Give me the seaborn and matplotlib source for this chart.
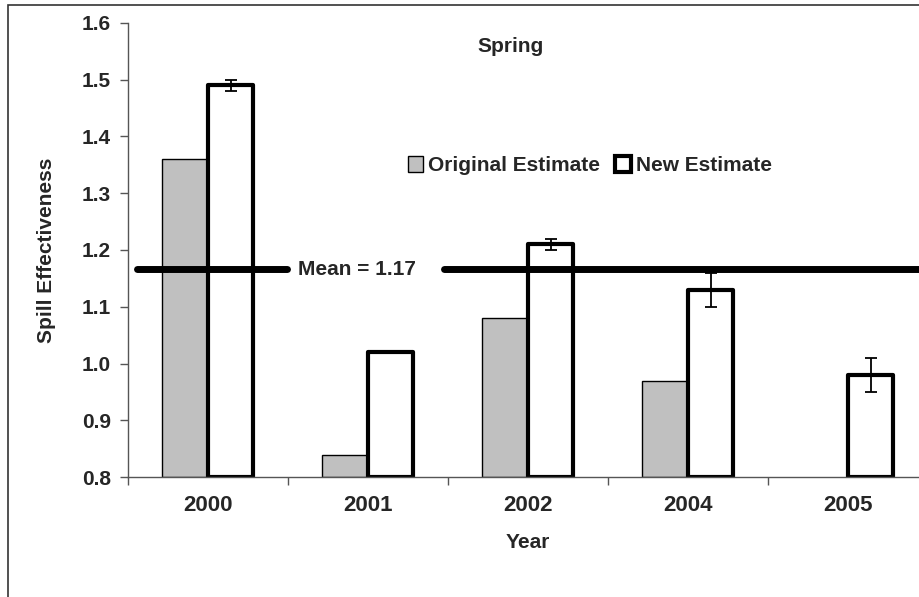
import matplotlib
matplotlib.use("Agg")
import matplotlib.pyplot as plt
import matplotlib.patches as mpatches
import seaborn as sns
import numpy as np
import pandas as pd

years = ["2000", "2001", "2002", "2004", "2005"]
original = [1.36, 0.84, 1.08, 0.97, np.nan]
new = [1.49, 1.02, 1.21, 1.13, 0.98]
new_err = [0.01, 0.0, 0.01, 0.03, 0.03]
series = ["Original Estimate", "New Estimate"]

mean_value = np.mean(new)
ymin, ymax = 0.8, 1.6
fs = 15

df = pd.DataFrame({
    "Year": years * 2,
    "Value": original + new,
    "Series": [series[0]] * len(years) + [series[1]] * len(years),
})

sns.set_style("white")
plt.rcParams["font.family"] = ["Liberation Sans", "DejaVu Sans"]
plt.rcParams["font.weight"] = "bold"

fig = plt.figure(figsize=(9.19, 5.97), dpi=100)
ax = fig.add_axes([0.139, 0.2005, 0.8705, 0.7615])

sns.barplot(data=df, x="Year", y="Value", hue="Series", hue_order=series,
            palette=["#C0C0C0", "white"], width=0.571, gap=0,
            errorbar=None, edgecolor="black", linewidth=1.0, ax=ax)

# Excel-style bars start at the axis minimum
for cont in ax.containers:
    for bar in cont:
        h = bar.get_height()
        bar.set_y(ymin)
        bar.set_height(h - ymin)
for bar in ax.containers[1]:
    bar.set_linewidth(3.0)
    bar.set_joinstyle("round")

xs = [b.get_x() + b.get_width() / 2 for b in ax.containers[1]]
ax.errorbar(xs, new, yerr=new_err, fmt="none", ecolor="black",
            elinewidth=1.3, capsize=4.5, capthick=1.3, zorder=5)

# mean line, broken by its label
ax.axhline(mean_value, xmin=0.011, xmax=0.1985, color="black", lw=5,
           solid_capstyle="round", zorder=6)
ax.axhline(mean_value, xmin=0.395, xmax=1.0, color="black", lw=5,
           solid_capstyle="round", zorder=6)
ax.text(0.213, mean_value, f"Mean = {mean_value:.2f}", transform=ax.get_yaxis_transform(),
        ha="left", va="center", fontsize=fs, fontweight="bold")

ax.set_ylim(ymin, ymax)
ax.set_xlim(-0.5, len(years) - 0.5)
ax.set_yticks(np.arange(0.8, 1.61, 0.1))
ax.set_yticklabels([f"{v:.1f}" for v in np.arange(0.8, 1.61, 0.1)])
ax.set_xticks(np.arange(-0.5, len(years)), minor=True)
ax.tick_params(axis="x", which="major", length=0, pad=13, labelsize=16)
ax.tick_params(axis="x", which="minor", length=6, width=1, color="#555555", direction="out", bottom=True)
ax.tick_params(axis="y", length=6, width=1, color="#555555", direction="out", pad=6, labelsize=fs, left=True)

for s in ["top", "right"]:
    ax.spines[s].set_visible(False)
for s in ["left", "bottom"]:
    ax.spines[s].set_color("#555555")
    ax.spines[s].set_linewidth(1.0)

ax.set_xlabel("Year", fontsize=fs, fontweight="bold")
ax.set_ylabel("Spill Effectiveness", fontsize=fs, fontweight="bold")
ax.xaxis.label.set_va("center")
ax.yaxis.label.set_va("center")
ax.xaxis.set_label_coords(0.5, -0.1445)
ax.yaxis.set_label_coords(-0.102, 0.5)

ax.text(0.478, 0.947, "Spring", transform=ax.transAxes, ha="center", va="center",
        fontsize=fs, fontweight="bold")

handles = [mpatches.Patch(facecolor="#C0C0C0", edgecolor="black", linewidth=1.0),
           mpatches.Patch(facecolor="white", edgecolor="black", linewidth=3.0)]
ax.legend(handles, series, ncol=2, frameon=False, loc="center",
          bbox_to_anchor=(0.5775, 0.685), prop={"size": fs, "weight": "bold"},
          handlelength=0.75, handleheight=0.75, handletextpad=0.25, columnspacing=0.7)

fig.patches.append(mpatches.Rectangle((0.0087, -0.02), 1.2, 0.9916 + 0.02,
                                      transform=fig.transFigure, fill=False,
                                      edgecolor="#333333", linewidth=1.2))

fig.savefig("out.png", dpi=100)
